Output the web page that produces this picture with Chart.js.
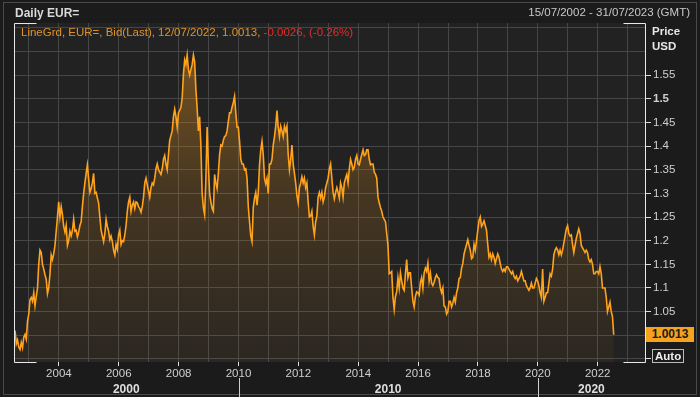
<!DOCTYPE html>
<html><head><meta charset="utf-8">
<script src="https://cdn.jsdelivr.net/npm/chart.js@4.4.1/dist/chart.umd.min.js"></script>
<style>
html,body{margin:0;padding:0;background:#1b1b1b;}
#wrap{position:relative;width:700px;height:397px;overflow:hidden;font-family:"Liberation Sans",Arial,sans-serif;background:#1b1b1b;}
#frame{position:absolute;left:3px;top:2px;width:692px;height:391px;border:1px solid #4a4a4a;}
canvas{position:absolute;left:0;top:0;}
.t{position:absolute;white-space:nowrap;}
#title{left:15px;top:6px;font-weight:bold;font-size:12px;color:#d9d9d9;}
#range{right:10px;top:6px;font-size:11.5px;color:#c8c8c8;}
#legend{left:21px;top:26px;font-size:11.5px;color:#e0922a;}
#legend .neg{color:#e0302a;}
#unit{left:652px;top:24px;font-weight:bold;font-size:11.5px;color:#e6e6e6;line-height:15px;}
#last{left:646px;top:327px;width:48px;height:15px;background:#f5a31e;color:#1a1a1a;font-weight:bold;font-size:12px;line-height:15px;text-align:center;}
#auto{left:652px;top:349px;border:1px solid #bbb;padding:0 2px;color:#eee;font-weight:bold;font-size:11.5px;line-height:12px;}
</style></head>
<body>
<div id="wrap">
<div id="frame"></div>
<canvas id="c" width="700" height="397"></canvas>
<div class="t" id="title">Daily EUR=</div>
<div class="t" id="range">15/07/2002 - 31/07/2023 (GMT)</div>
<div class="t" id="legend">LineGrd, EUR=, Bid(Last), 12/07/2022, 1.0013, <span class="neg">-0.0026, (-0.26%)</span></div>
<div class="t" id="unit">Price<br>USD</div>
<div class="t" id="last">1.0013</div>
<div class="t" id="auto">Auto</div>
</div>
<script>
// Series: EUR/USD bid, twice-monthly readings starting 15/07/2002
const startYear = 2002.535;
const pointsPerYear = 24;
const rates2002 = [1.010,0.982,0.990,0.975,0.970,0.985,0.974,0.996,1.002,0.992,1.030];
const rates2003 = [1.045,1.075,1.080,1.072,1.090,1.062,1.082,1.100,1.150,1.180,1.175,1.150,1.140,1.128,1.118,1.088,1.100,1.130,1.170,1.160,1.172,1.190,1.220,1.250];
const rates2004 = [1.282,1.250,1.272,1.255,1.230,1.218,1.232,1.190,1.200,1.220,1.210,1.222,1.245,1.220,1.222,1.208,1.218,1.232,1.240,1.272,1.300,1.322,1.342,1.360];
const rates2005 = [1.330,1.302,1.310,1.322,1.342,1.300,1.302,1.290,1.280,1.250,1.222,1.210,1.198,1.215,1.245,1.230,1.220,1.202,1.210,1.198,1.180,1.170,1.192,1.182];
const rates2006 = [1.212,1.222,1.192,1.200,1.198,1.212,1.232,1.262,1.282,1.292,1.262,1.275,1.282,1.268,1.282,1.280,1.272,1.268,1.260,1.272,1.292,1.322,1.332,1.318];
const rates2007 = [1.305,1.292,1.312,1.322,1.318,1.332,1.352,1.362,1.350,1.345,1.340,1.352,1.372,1.380,1.362,1.350,1.382,1.412,1.422,1.432,1.462,1.478,1.462,1.440];
const rates2008 = [1.470,1.475,1.482,1.502,1.552,1.582,1.572,1.592,1.562,1.550,1.562,1.572,1.592,1.578,1.520,1.480,1.432,1.462,1.400,1.300,1.270,1.255,1.330,1.440];
const rates2009 = [1.360,1.300,1.282,1.268,1.262,1.340,1.322,1.310,1.342,1.382,1.402,1.400,1.412,1.420,1.422,1.432,1.452,1.470,1.470,1.482,1.492,1.505,1.470,1.440];
const rates2010 = [1.440,1.410,1.372,1.362,1.362,1.350,1.352,1.332,1.272,1.240,1.210,1.198,1.270,1.290,1.302,1.275,1.302,1.360,1.392,1.410,1.382,1.332,1.320,1.332];
const rates2011 = [1.300,1.362,1.362,1.372,1.402,1.420,1.442,1.475,1.440,1.420,1.442,1.432,1.420,1.442,1.432,1.442,1.382,1.350,1.372,1.402,1.362,1.342,1.322,1.295];
const rates2012 = [1.280,1.312,1.322,1.335,1.322,1.332,1.312,1.322,1.282,1.250,1.252,1.262,1.230,1.212,1.240,1.252,1.292,1.302,1.290,1.302,1.282,1.292,1.312,1.322];
const rates2013 = [1.332,1.352,1.362,1.332,1.302,1.288,1.302,1.312,1.302,1.290,1.322,1.312,1.292,1.322,1.332,1.340,1.322,1.352,1.372,1.362,1.350,1.355,1.372,1.380];
const rates2014 = [1.362,1.360,1.372,1.382,1.392,1.380,1.382,1.392,1.392,1.372,1.360,1.362,1.362,1.345,1.340,1.332,1.292,1.280,1.270,1.262,1.250,1.245,1.240,1.215];
const rates2015 = [1.190,1.130,1.132,1.135,1.080,1.055,1.082,1.092,1.122,1.100,1.132,1.115,1.100,1.095,1.130,1.160,1.122,1.132,1.132,1.100,1.072,1.060,1.082,1.092];
const rates2016 = [1.090,1.085,1.112,1.122,1.100,1.132,1.142,1.135,1.152,1.115,1.132,1.110,1.105,1.112,1.122,1.128,1.122,1.120,1.100,1.090,1.100,1.062,1.060,1.045];
const rates2017 = [1.050,1.072,1.072,1.060,1.068,1.080,1.070,1.090,1.100,1.120,1.122,1.142,1.152,1.172,1.182,1.192,1.202,1.190,1.180,1.162,1.165,1.192,1.180,1.200];
const rates2018 = [1.222,1.242,1.250,1.230,1.235,1.242,1.232,1.222,1.192,1.165,1.172,1.160,1.172,1.165,1.152,1.162,1.172,1.165,1.152,1.140,1.135,1.140,1.135,1.145];
const rates2019 = [1.145,1.140,1.135,1.130,1.135,1.125,1.120,1.125,1.115,1.120,1.125,1.135,1.125,1.115,1.115,1.105,1.100,1.095,1.100,1.110,1.100,1.100,1.110,1.120];
const rates2020 = [1.115,1.105,1.090,1.080,1.140,1.072,1.080,1.090,1.090,1.110,1.130,1.125,1.140,1.170,1.180,1.185,1.180,1.170,1.180,1.170,1.180,1.195,1.210,1.225];
const rates2021 = [1.232,1.215,1.210,1.212,1.192,1.175,1.190,1.205,1.215,1.225,1.215,1.190,1.185,1.180,1.175,1.180,1.175,1.160,1.155,1.160,1.150,1.130,1.130,1.135];
const rates2022 = [1.135,1.130,1.145,1.130,1.100,1.100,1.100,1.080,1.050,1.060,1.070,1.050,1.040,1.0013];
const rates = [].concat(rates2002,rates2003,rates2004,rates2005,rates2006,rates2007,rates2008,rates2009,rates2010,rates2011,rates2012,rates2013,rates2014,rates2015,rates2016,rates2017,rates2018,rates2019,rates2020,rates2021,rates2022);

const xMin = 2002.50, xMax = 2023.58;          // 15/07/2002 - 31/07/2023
const yMin = 0.9436, yMax = 1.66;
const xTickYears = [2003,2004,2005,2006,2007,2008,2009,2010,2011,2012,2013,2014,2015,2016,2017,2018,2019,2020,2021,2022,2023];
const xLabelYears = [2004,2006,2008,2010,2012,2014,2016,2018,2020,2022];
const decadeStarts = [2000,2010,2020];
const decadeLabels = ['2000','2010','2020'];
const yTicks = [0.95,1.0,1.05,1.1,1.15,1.2,1.25,1.3,1.35,1.4,1.45,1.5,1.55,1.6,1.65];
const yTickLabels = ['','','1.05','1.1','1.15','1.2','1.25','1.3','1.35','1.4','1.45','1.5','1.55','',''];
const yBoldTick = 1.5;

const FONT = '"Liberation Sans", Arial, sans-serif';
const GRID = '#464646';
const points = rates.map((v,i)=>({x:startYear + i/pointsPerYear, y:v}));

const framePlugin = {
  id:'frame',
  beforeDraw(chart){
    const {ctx, chartArea:a} = chart;
    ctx.save();
    ctx.fillStyle='#222222';
    ctx.fillRect(a.left,a.top,a.right-a.left,a.bottom-a.top);
    ctx.restore();
  },
  afterDraw(chart){
    const {ctx, chartArea:a, scales} = chart;
    ctx.save();
    ctx.strokeStyle='#e8e8e8'; ctx.lineWidth=1;
    const L=a.left+0.5, R=a.right+0.5, T=a.top+0.5, B=a.bottom+0.5, c=22;
    ctx.beginPath();
    ctx.moveTo(L,T); ctx.lineTo(L,B);
    ctx.moveTo(R,T); ctx.lineTo(R,B);
    ctx.moveTo(L,T); ctx.lineTo(L+c,T);
    ctx.moveTo(L,B); ctx.lineTo(L+c,B);
    ctx.moveTo(R-c,T); ctx.lineTo(R,T);
    ctx.moveTo(R-c,B); ctx.lineTo(R,B);
    ctx.stroke();
    // decade separators
    ctx.strokeStyle='#cfcfcf';
    ctx.beginPath();
    decadeStarts.forEach(d=>{
      if(d>xMin && d<xMax){
        const px=Math.round(scales.x.getPixelForValue(d))+0.5;
        ctx.moveTo(px,a.bottom+16); ctx.lineTo(px,chart.height);
      }
    });
    ctx.stroke();
    ctx.restore();
  }
};

new Chart(document.getElementById('c'),{
  type:'line',
  data:{datasets:[{
    data:points,
    borderColor:'#ffa21c',
    borderWidth:1.6,
    pointRadius:0,
    tension:0,
    fill:'start',
    backgroundColor:(ctx)=>{
      const ch=ctx.chart, a=ch.chartArea;
      if(!a) return 'rgba(255,160,30,0.15)';
      const g=ch.ctx.createLinearGradient(0,a.top,0,a.bottom);
      g.addColorStop(0,'rgba(255,160,30,0.42)');
      g.addColorStop(0.5,'rgba(255,160,30,0.16)');
      g.addColorStop(1,'rgba(255,160,30,0.04)');
      return g;
    }
  }]},
  options:{
    responsive:false, animation:false,
    layout:{padding:{left:14,top:23,right:0,bottom:0}},
    plugins:{legend:{display:false},tooltip:{enabled:false}},
    scales:{
      x:{
        type:'linear', position:'bottom', min:xMin, max:xMax,
        afterBuildTicks:(s)=>{ s.ticks = xTickYears.map(v=>({value:v})); },
        afterFit:(s)=>{ s.height=20; },
        border:{display:false},
        grid:{color:GRID, lineWidth:1, drawTicks:true, tickLength:4,
          tickColor:(c)=> (c.tick && xLabelYears.includes(c.tick.value)) ? '#dddddd' : 'rgba(0,0,0,0)'},
        ticks:{autoSkip:false, maxRotation:0, padding:1, color:'#cfcfcf', font:{family:FONT,size:11.5},
          callback:(v)=> xLabelYears.includes(v) ? String(v) : ''}
      },
      x2:{
        type:'linear', position:'bottom', min:xMin, max:xMax,
        afterBuildTicks:(s)=>{ s.ticks = decadeStarts.map(d=>({value:(Math.max(d,xMin)+Math.min(d+10,xMax))/2})); },
        afterFit:(s)=>{ s.height=15; },
        border:{display:false},
        grid:{display:false, drawTicks:false},
        ticks:{autoSkip:false, maxRotation:0, padding:0, color:'#dedede', font:{family:FONT,size:12,weight:'bold'},
          callback:(v,i)=> decadeLabels[i]}
      },
      y:{
        type:'linear', position:'right', min:yMin, max:yMax,
        afterBuildTicks:(s)=>{ s.ticks = yTicks.map(v=>({value:v})); },
        afterFit:(s)=>{ s.width=55; },
        border:{display:false},
        grid:{color:GRID, lineWidth:1, drawTicks:true, tickLength:6,
          tickColor:(c)=> (c.tick && c.tick.value<=1.551) ? '#dddddd' : 'rgba(0,0,0,0)'},
        ticks:{autoSkip:false, padding:2, color:'#cfcfcf',
          font:(c)=>({family:FONT,size:11.5,weight:(c.tick && Math.abs(c.tick.value-yBoldTick)<1e-6)?'bold':'normal'}),
          callback:(v,i)=> yTickLabels[i]}
      }
    }
  },
  plugins:[framePlugin]
});
</script>
</body></html>
